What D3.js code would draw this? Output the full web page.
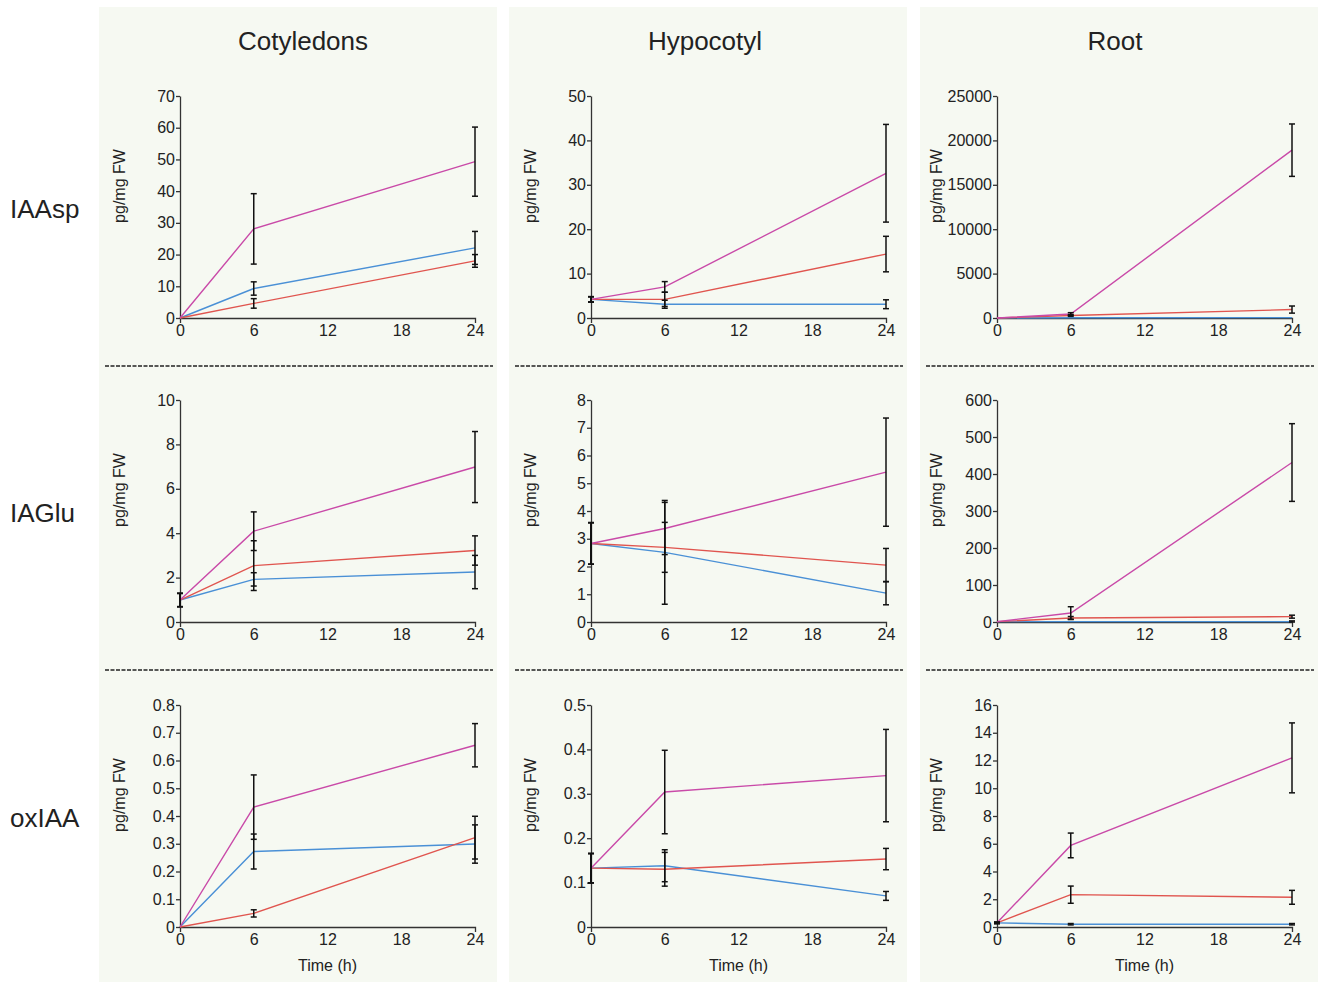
<!DOCTYPE html>
<html>
<head>
<meta charset="utf-8">
<script src="https://cdn.jsdelivr.net/npm/d3@7"></script>
<style>
  body { margin: 0; background: #fff; }
  text { font-family: "Liberation Sans", Arial, Helvetica, sans-serif; fill: #222; }
</style>
</head>
<body>
<svg id="chart"></svg>
<script>
// sampling times and labels
const times = [0, 6, 24];
const xTicks = [0, 6, 12, 18, 24];
const tissues = ["Cotyledons", "Hypocotyl", "Root"];
const compounds = ["IAAsp", "IAGlu", "oxIAA"];
const seriesColors = ["#c94aa8", "#e0554f", "#4a90d6"]; // magenta, red, blue

// y-axis range per row (compound) and column (tissue)
const yMax = [[70, 50, 25000], [10, 8, 600], [0.8, 0.5, 16]];
const yStep = [[10, 10, 5000], [2, 1, 100], [0.1, 0.1, 2]];

// means [tissue][series][time], series order: magenta, red, blue
const iaaspMeans = [
    [[0, 28.1, 49.3], [0, 4.6, 18.0], [0, 9.3, 22.1]],
    [[4.2, 7.0, 32.6], [4.2, 4.2, 14.4], [4.2, 3.1, 3.1]],
    [[0, 450, 18900], [0, 280, 950], [0, 30, 40]]
];
const iaaspErrors = [
    [[0, 11.1, 10.9], [0, 1.5, 2.0], [0, 2.1, 5.2]],
    [[0.6, 1.2, 11.0], [0.6, 1.6, 4.0], [0.6, 0.9, 1.0]],
    [[0, 150, 2950], [0, 100, 400], [0, 20, 30]]
];
const iaGluMeans = [
    [[0.99, 4.09, 6.98], [0.99, 2.54, 3.22], [0.99, 1.92, 2.25]],
    [[2.83, 3.37, 5.40], [2.83, 2.69, 2.05], [2.83, 2.51, 1.04]],
    [[1, 24.3, 431], [1, 10.8, 14.4], [1, 1, 1]]
];
const iaGluErrors = [
    [[0.3, 0.87, 1.6], [0.3, 1.12, 0.66], [0.3, 0.3, 0.75]],
    [[0.75, 0.94, 1.95], [0.75, 0.9, 0.6], [0.75, 1.87, 0.42]],
    [[0, 17, 105], [0, 4, 4], [0, 1, 2]]
];
const oxIaaMeans = [
    [[0, 0.432, 0.655], [0, 0.049, 0.322], [0, 0.272, 0.299]],
    [[0.1325, 0.304, 0.341], [0.1325, 0.130, 0.153], [0.1325, 0.138, 0.070]],
    [[0.3, 5.88, 12.19], [0.3, 2.33, 2.14], [0.3, 0.2, 0.2]]
];
const oxIaaErrors = [
    [[0, 0.116, 0.078], [0, 0.013, 0.077], [0, 0.063, 0.069]],
    [[0.033, 0.094, 0.104], [0.033, 0.038, 0.024], [0.033, 0.036, 0.01]],
    [[0.05, 0.89, 2.52], [0.05, 0.62, 0.5], [0.05, 0.05, 0.05]]
];
const allMeans = [iaaspMeans, iaGluMeans, oxIaaMeans];
const allErrors = [iaaspErrors, iaGluErrors, oxIaaErrors];

const width = 1319, height = 982;
const svg = d3.select("#chart").attr("width", width).attr("height", height);

const panelX = [99, 509, 920];
const panelW = 398;
const titleX = [303, 705, 1115];
const plotLeft = [180, 591, 997];
const plotW = 295;
const rowTop = [96, 400, 705];
const plotH = 222;

// column backgrounds
svg.selectAll(".panel")
    .data(panelX)
    .enter().append("rect")
    .attr("class", "panel")
    .attr("x", d => d)
    .attr("y", 7)
    .attr("width", panelW)
    .attr("height", height - 7)
    .attr("fill", "#f6f9f2");

// column titles
svg.selectAll(".col-title")
    .data(tissues)
    .enter().append("text")
    .attr("class", "col-title")
    .attr("x", (d, i) => titleX[i])
    .attr("y", 50)
    .attr("text-anchor", "middle")
    .style("font-size", "26px")
    .text(d => d);

// row labels
svg.selectAll(".row-label")
    .data(compounds)
    .enter().append("text")
    .attr("class", "row-label")
    .attr("x", 10)
    .attr("y", (d, i) => rowTop[i] + plotH / 2 + 11)
    .style("font-size", "26px")
    .text(d => d);

// dashed separators between rows
[366, 670].forEach(y => {
    panelX.forEach(px => {
        svg.append("line")
            .attr("x1", px + 6).attr("x2", px + panelW - 4)
            .attr("y1", y).attr("y2", y)
            .attr("stroke", "#222")
            .attr("stroke-width", 1.6)
            .attr("stroke-dasharray", "4,1.5");
    });
});

const fmt = d => String(+d.toFixed(4));

compounds.forEach((comp, r) => {
    tissues.forEach((tis, c) => {
        const g = svg.append("g")
            .attr("transform", `translate(${plotLeft[c]},${rowTop[r]})`);

        const x = d3.scaleLinear().domain([0, 24]).range([0, plotW]);
        const y = d3.scaleLinear().domain([0, yMax[r][c]]).range([plotH, 0]);
        const yTicks = d3.range(0, yMax[r][c] + yStep[r][c] / 2, yStep[r][c]);

        const yAxis = g.append("g")
            .call(d3.axisLeft(y).tickValues(yTicks).tickFormat(fmt).tickSize(4).tickSizeOuter(0).tickPadding(1));
        const xAxis = g.append("g")
            .attr("transform", `translate(0,${plotH})`)
            .call(d3.axisBottom(x).tickValues(xTicks).tickFormat(fmt).tickSizeInner(0).tickSizeOuter(5).tickPadding(7));

        [yAxis, xAxis].forEach(a => {
            a.selectAll("path, line").attr("stroke", "#333").attr("stroke-width", 1.3);
            a.selectAll("text")
                .style("font-size", "16px")
                .style("font-family", "Liberation Sans, Arial, sans-serif")
                .attr("fill", "#222");
        });

        // y label
        g.append("text")
            .attr("transform", `translate(-55,${plotH / 2 - 21}) rotate(-90)`)
            .attr("text-anchor", "middle")
            .style("font-size", "16px")
            .text("pg/mg FW");

        if (r === 2) {
            g.append("text")
                .attr("x", plotW / 2)
                .attr("y", plotH + 44)
                .attr("text-anchor", "middle")
                .style("font-size", "16px")
                .text("Time (h)");
        }

        const means = allMeans[r][c];
        const errs = allErrors[r][c];

        const line = d3.line()
            .x((d, i) => x(times[i]))
            .y(d => y(d));

        // draw blue, red, magenta so magenta sits on top
        [2, 1, 0].forEach(s => {
            g.append("path")
                .datum(means[s])
                .attr("d", line)
                .attr("fill", "none")
                .attr("stroke", seriesColors[s])
                .attr("stroke-width", 1.4);
        });

        // error bars
        means.forEach((ser, s) => {
            ser.forEach((m, i) => {
                const e = errs[s][i];
                if (!e) return;
                const cx = x(times[i]);
                const y1 = y(m + e), y2 = y(Math.max(0, m - e));
                if (Math.abs(y2 - y1) < 1) return;
                const eb = g.append("g")
                    .attr("stroke", "#111")
                    .attr("stroke-width", 1.5);
                eb.append("line").attr("x1", cx).attr("x2", cx).attr("y1", y1).attr("y2", y2);
                eb.append("line").attr("x1", cx - 3).attr("x2", cx + 3).attr("y1", y1).attr("y2", y1);
                eb.append("line").attr("x1", cx - 3).attr("x2", cx + 3).attr("y1", y2).attr("y2", y2);
            });
        });
    });
});
</script>
</body>
</html>
